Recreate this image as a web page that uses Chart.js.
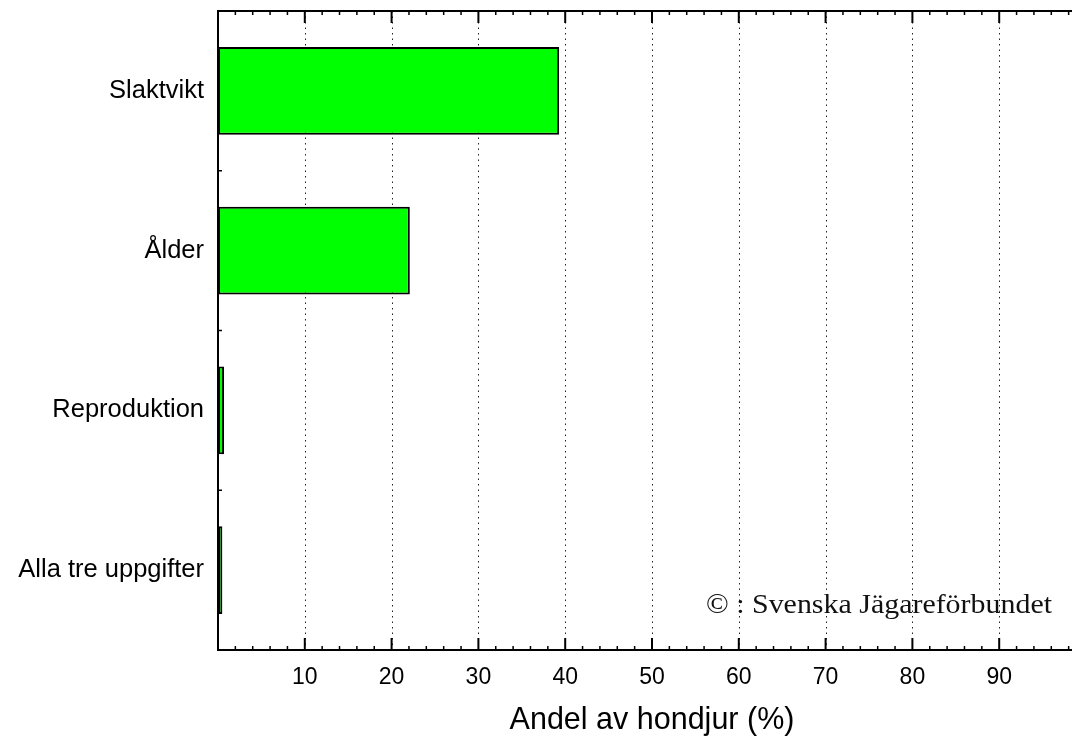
<!DOCTYPE html>
<html><head><meta charset="utf-8">
<script src="https://cdn.jsdelivr.net/npm/chart.js@4"></script>
<style>html,body{margin:0;padding:0;overflow:hidden;background:#fff}
#wrap{width:1100px;height:744px;position:relative}</style>
</head><body><div id="wrap"><canvas id="c"></canvas></div>
<script>
const categories = ['Slaktvikt', 'Ålder', 'Reproduktion', 'Alla tre uppgifter'];
const shareValues = [39.3, 22.1, 0.7, 0.5];
const xTickValues = [10, 20, 30, 40, 50, 60, 70, 80, 90];
const xAxisTitle = 'Andel av hondjur (%)';
const creditText = '© : Svenska Jägareförbundet';

const SANS = '"Liberation Sans", Arial, Helvetica, sans-serif';

const framePlugin = {
  id: 'frame',
  beforeDatasetsDraw(chart) {
    const {ctx, chartArea: a, scales: {x}} = chart;
    ctx.save();
    ctx.strokeStyle = '#222';
    ctx.lineWidth = 1;
    ctx.setLineDash([1.5, 4]);
    for (const v of xTickValues) {
      const px = Math.round(x.getPixelForValue(v)) + 0.5;
      ctx.beginPath(); ctx.moveTo(px, a.top); ctx.lineTo(px, a.bottom); ctx.stroke();
    }
    ctx.restore();
  },
  afterDatasetsDraw(chart) {
    const {ctx, chartArea: a, scales: {x, y}} = chart;
    ctx.save();
    ctx.setLineDash([]);
    ctx.strokeStyle = '#000';
    ctx.lineWidth = 2;
    ctx.beginPath();
    ctx.moveTo(a.right, a.top); ctx.lineTo(a.left, a.top);
    ctx.lineTo(a.left, a.bottom); ctx.lineTo(a.right, a.bottom);
    ctx.stroke();
    for (let v = 0; v <= 100; v += 2) {
      const px = x.getPixelForValue(v);
      const major = v % 10 === 0;
      const len = major ? 12 : 4;
      ctx.lineWidth = major ? 2 : 1.5;
      ctx.beginPath();
      ctx.moveTo(px, a.top); ctx.lineTo(px, a.top + len);
      ctx.moveTo(px, a.bottom); ctx.lineTo(px, a.bottom - len);
      ctx.stroke();
    }
    ctx.lineWidth = 1.5;
    for (let i = 0; i < categories.length - 1; i++) {
      const py = (y.getPixelForValue(i) + y.getPixelForValue(i + 1)) / 2;
      ctx.beginPath(); ctx.moveTo(a.left, py); ctx.lineTo(a.left + 4, py); ctx.stroke();
    }
    ctx.fillStyle = '#111';
    ctx.font = '27px "Liberation Serif", "Times New Roman", serif';
    ctx.textBaseline = 'alphabetic';
    ctx.textAlign = 'left';
    const w = ctx.measureText(creditText).width;
    const target = 346;
    const tx = a.left + 488, ty = a.bottom - 37;
    ctx.translate(tx, ty);
    ctx.scale(target / w, 1);
    ctx.fillText(creditText, 0, 0);
    ctx.restore();
  }
};

new Chart(document.getElementById('c'), {
  type: 'bar',
  data: {
    labels: categories,
    datasets: [{
      data: shareValues,
      backgroundColor: '#00ff00',
      borderColor: '#000',
      borderWidth: 2,
      borderSkipped: false,
      barPercentage: 0.55,
      categoryPercentage: 1
    }]
  },
  options: {
    indexAxis: 'y',
    responsive: true,
    maintainAspectRatio: false,
    animation: false,
    layout: {padding: {top: 11, right: 14, bottom: 0, left: 0}},
    plugins: {legend: {display: false}, tooltip: {enabled: false}},
    scales: {
      x: {
        type: 'linear', min: 0, max: 100, position: 'bottom',
        afterFit(s) { s.height = 94; s.paddingLeft = 0; s.paddingRight = 0; },
        grid: {display: false, drawTicks: false},
        border: {display: false},
        ticks: {
          stepSize: 10, autoSkip: false, padding: 14, color: '#000',
          font: {family: SANS, size: 23},
          callback: (v) => xTickValues.includes(v) ? String(v) : ''
        },
        title: {
          display: true, text: xAxisTitle, color: '#000',
          font: {family: SANS, size: 30.5}, padding: {top: 0, bottom: 5}
        }
      },
      y: {
        afterFit(s) { s.width = 218; s.paddingTop = 0; s.paddingBottom = 0; },
        grid: {display: false, drawTicks: false},
        border: {display: false},
        ticks: {padding: 14, color: '#000', font: {family: SANS, size: 25.5}}
      }
    }
  },
  plugins: [framePlugin]
});
</script>
</body></html>
